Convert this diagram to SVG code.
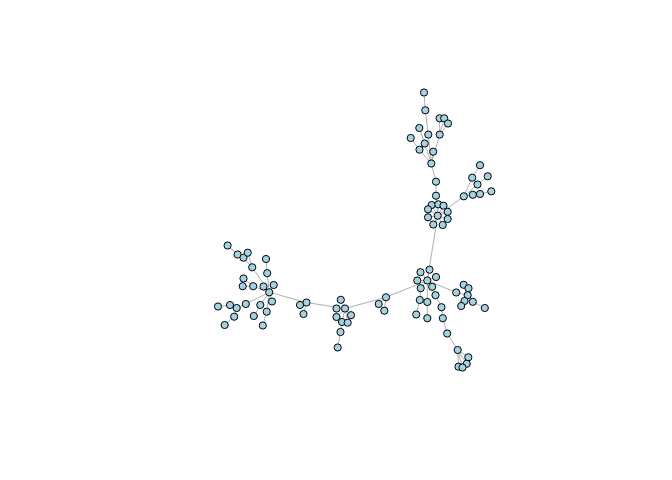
<svg xmlns="http://www.w3.org/2000/svg" width="672" height="480" viewBox="0 0 672 480">
<style>
.e{stroke:#a6a6a6;stroke-width:0.9;fill:none}
.n circle{fill:#a3d2e2;stroke:#000;stroke-width:1}
</style>
<rect width="672" height="480" fill="#fff"/>
<g id="edges" class="e">
<path d="M424,92.5L425.3,110.3L428.3,134.6L431.3,163.5M439.6,118.3L439.7,134.6M444.2,118.3L439.7,134.6M448,123.5L439.7,134.6L431.3,163.5M419.3,128L424.7,143.5L431.3,163.5M410.7,138L419.5,149.7L431.3,163.5M433.2,151.7L431.3,163.5L436,181.7L436,195.7L437.7,215.7"/>
<path d="M437.7,215.7L431.7,205M437.7,215.7L438.3,204.3M437.7,215.7L443.5,205.7M437.7,215.7L428,209.3M437.7,215.7L447.7,211.8M437.7,215.7L428,217.3M437.7,215.7L447.7,219M437.7,215.7L433.3,224.5M437.7,215.7L442.7,225"/>
<path d="M437.7,215.7L463.8,196.3L472.8,194.8L480,194L491.3,191.3M463.8,196.3L472.2,177.7L480,165.2M463.8,196.3L477.5,184.5L487.7,176.3"/>
<path d="M437.7,215.7L427.3,280.5M427.3,280.5L429.5,269.7M427.3,280.5L420.5,272.2M427.3,280.5L436,277M427.3,280.5L417.3,280.5M427.3,280.5L420.7,288.2L419.8,300L416.2,314.5M427.3,280.5L427.3,302L427.3,318.2M427.3,280.5L432.2,286.8L435.5,295.2L441.5,307.2L442.8,318.2L447.2,333.5L457.7,350M457.7,350L468.3,357.3M457.7,350L466.7,363.8M457.7,350L458.5,366.7M457.7,350L462.5,367.5"/>
<path d="M427.3,280.5L456.2,292.5L467.7,295.2M467.7,295.2L463.7,284.8M467.7,295.2L468.5,288.2M467.7,295.2L464.5,301M467.7,295.2L461.2,306M467.7,295.2L472.8,301.8L484.8,308"/>
<path d="M427.3,280.5L386,297.3L378.7,304M386,297.3L384.3,310.7M386,297.3L345,308.5"/>
<path d="M345,308.5L340.8,299.8M345,308.5L336.5,308.5M345,308.5L351,315.2M345,308.5L336.5,317M345,308.5L342,322L340.5,332L337.7,347.5M345,308.5L347.7,322.7M345,308.5L306.5,302.5L300,305M306.5,302.5L303.5,314M306.5,302.5L269.2,292.3"/>
<path d="M269.2,292.3L252.2,267.3L243.5,257.7L237.6,254.5L227.6,245.5M252.2,267.3L247.7,252.7M269.2,292.3L267.2,273.2L266,259M269.2,292.3L253.2,286.2L243.5,278.5M253.2,286.2L242.7,286.2M269.2,292.3L263.5,286.5M269.2,292.3L273.7,285M269.2,292.3L272,301.5M269.2,292.3L260.3,305L253.8,316M269.2,292.3L266.7,311.7L262.8,325.5M269.2,292.3L245.8,304L236.7,308L230,305L218,306.5M236.7,308L234.2,316.7L224.7,325"/>
</g>
<g id="nodes" class="n">
<g id="n1"><circle cx="424" cy="92.5" r="3.6"/></g>
<g id="n2"><circle cx="425.3" cy="110.3" r="3.6"/></g>
<g id="n3"><circle cx="439.6" cy="118.3" r="3.6"/></g>
<g id="n4"><circle cx="444.2" cy="118.3" r="3.6"/></g>
<g id="n5"><circle cx="448" cy="123.5" r="3.6"/></g>
<g id="n6"><circle cx="419.3" cy="128" r="3.6"/></g>
<g id="n7"><circle cx="428.3" cy="134.6" r="3.6"/></g>
<g id="n8"><circle cx="439.7" cy="134.6" r="3.6"/></g>
<g id="n9"><circle cx="410.7" cy="138" r="3.6"/></g>
<g id="n10"><circle cx="424.7" cy="143.5" r="3.6"/></g>
<g id="n11"><circle cx="419.5" cy="149.7" r="3.6"/></g>
<g id="n12"><circle cx="433.2" cy="151.7" r="3.6"/></g>
<g id="n13"><circle cx="431.3" cy="163.5" r="3.6"/></g>
<g id="n14"><circle cx="436" cy="181.7" r="3.6"/></g>
<g id="n15"><circle cx="436" cy="195.7" r="3.6"/></g>
<g id="n16"><circle cx="437.7" cy="215.7" r="3.6"/></g>
<g id="n17"><circle cx="431.7" cy="205" r="3.6"/></g>
<g id="n18"><circle cx="438.3" cy="204.3" r="3.6"/></g>
<g id="n19"><circle cx="443.5" cy="205.7" r="3.6"/></g>
<g id="n20"><circle cx="428" cy="209.3" r="3.6"/></g>
<g id="n21"><circle cx="447.7" cy="211.8" r="3.6"/></g>
<g id="n22"><circle cx="428" cy="217.3" r="3.6"/></g>
<g id="n23"><circle cx="447.7" cy="219" r="3.6"/></g>
<g id="n24"><circle cx="433.3" cy="224.5" r="3.6"/></g>
<g id="n25"><circle cx="442.7" cy="225" r="3.6"/></g>
<g id="n26"><circle cx="463.8" cy="196.3" r="3.6"/></g>
<g id="n27"><circle cx="472.8" cy="194.8" r="3.6"/></g>
<g id="n28"><circle cx="480" cy="194" r="3.6"/></g>
<g id="n29"><circle cx="491.3" cy="191.3" r="3.6"/></g>
<g id="n30"><circle cx="472.2" cy="177.7" r="3.6"/></g>
<g id="n31"><circle cx="480" cy="165.2" r="3.6"/></g>
<g id="n32"><circle cx="477.5" cy="184.5" r="3.6"/></g>
<g id="n33"><circle cx="487.7" cy="176.3" r="3.6"/></g>
<g id="n34"><circle cx="427.3" cy="280.5" r="3.6"/></g>
<g id="n35"><circle cx="429.5" cy="269.7" r="3.6"/></g>
<g id="n36"><circle cx="420.5" cy="272.2" r="3.6"/></g>
<g id="n37"><circle cx="436" cy="277" r="3.6"/></g>
<g id="n38"><circle cx="417.3" cy="280.5" r="3.6"/></g>
<g id="n39"><circle cx="420.7" cy="288.2" r="3.6"/></g>
<g id="n40"><circle cx="432.2" cy="286.8" r="3.6"/></g>
<g id="n41"><circle cx="435.5" cy="295.2" r="3.6"/></g>
<g id="n42"><circle cx="419.8" cy="300" r="3.6"/></g>
<g id="n43"><circle cx="427.3" cy="302" r="3.6"/></g>
<g id="n44"><circle cx="441.5" cy="307.2" r="3.6"/></g>
<g id="n45"><circle cx="416.2" cy="314.5" r="3.6"/></g>
<g id="n46"><circle cx="427.3" cy="318.2" r="3.6"/></g>
<g id="n47"><circle cx="442.8" cy="318.2" r="3.6"/></g>
<g id="n48"><circle cx="447.2" cy="333.5" r="3.6"/></g>
<g id="n49"><circle cx="457.7" cy="350" r="3.6"/></g>
<g id="n50"><circle cx="468.3" cy="357.3" r="3.6"/></g>
<g id="n51"><circle cx="466.7" cy="363.8" r="3.6"/></g>
<g id="n52"><circle cx="458.5" cy="366.7" r="3.6"/></g>
<g id="n53"><circle cx="462.5" cy="367.5" r="3.6"/></g>
<g id="n54"><circle cx="456.2" cy="292.5" r="3.6"/></g>
<g id="n55"><circle cx="463.7" cy="284.8" r="3.6"/></g>
<g id="n56"><circle cx="468.5" cy="288.2" r="3.6"/></g>
<g id="n57"><circle cx="467.7" cy="295.2" r="3.6"/></g>
<g id="n58"><circle cx="464.5" cy="301" r="3.6"/></g>
<g id="n59"><circle cx="472.8" cy="301.8" r="3.6"/></g>
<g id="n60"><circle cx="461.2" cy="306" r="3.6"/></g>
<g id="n61"><circle cx="484.8" cy="308" r="3.6"/></g>
<g id="n62"><circle cx="386" cy="297.3" r="3.6"/></g>
<g id="n63"><circle cx="378.7" cy="304" r="3.6"/></g>
<g id="n64"><circle cx="384.3" cy="310.7" r="3.6"/></g>
<g id="n65"><circle cx="345" cy="308.5" r="3.6"/></g>
<g id="n66"><circle cx="340.8" cy="299.8" r="3.6"/></g>
<g id="n67"><circle cx="336.5" cy="308.5" r="3.6"/></g>
<g id="n68"><circle cx="351" cy="315.2" r="3.6"/></g>
<g id="n69"><circle cx="336.5" cy="317" r="3.6"/></g>
<g id="n70"><circle cx="342" cy="322" r="3.6"/></g>
<g id="n71"><circle cx="347.7" cy="322.7" r="3.6"/></g>
<g id="n72"><circle cx="340.5" cy="332" r="3.6"/></g>
<g id="n73"><circle cx="337.7" cy="347.5" r="3.6"/></g>
<g id="n74"><circle cx="306.5" cy="302.5" r="3.6"/></g>
<g id="n75"><circle cx="300" cy="305" r="3.6"/></g>
<g id="n76"><circle cx="303.5" cy="314" r="3.6"/></g>
<g id="n77"><circle cx="269.2" cy="292.3" r="3.6"/></g>
<g id="n78"><circle cx="227.6" cy="245.5" r="3.6"/></g>
<g id="n79"><circle cx="237.6" cy="254.5" r="3.6"/></g>
<g id="n80"><circle cx="243.5" cy="257.7" r="3.6"/></g>
<g id="n81"><circle cx="247.7" cy="252.7" r="3.6"/></g>
<g id="n82"><circle cx="252.2" cy="267.3" r="3.6"/></g>
<g id="n83"><circle cx="266" cy="259" r="3.6"/></g>
<g id="n84"><circle cx="267.2" cy="273.2" r="3.6"/></g>
<g id="n85"><circle cx="243.5" cy="278.5" r="3.6"/></g>
<g id="n86"><circle cx="242.7" cy="286.2" r="3.6"/></g>
<g id="n87"><circle cx="253.2" cy="286.2" r="3.6"/></g>
<g id="n88"><circle cx="263.5" cy="286.5" r="3.6"/></g>
<g id="n89"><circle cx="273.7" cy="285" r="3.6"/></g>
<g id="n90"><circle cx="272" cy="301.5" r="3.6"/></g>
<g id="n91"><circle cx="260.3" cy="305" r="3.6"/></g>
<g id="n92"><circle cx="245.8" cy="304" r="3.6"/></g>
<g id="n93"><circle cx="230" cy="305" r="3.6"/></g>
<g id="n94"><circle cx="218" cy="306.5" r="3.6"/></g>
<g id="n95"><circle cx="236.7" cy="308" r="3.6"/></g>
<g id="n96"><circle cx="234.2" cy="316.7" r="3.6"/></g>
<g id="n97"><circle cx="224.7" cy="325" r="3.6"/></g>
<g id="n98"><circle cx="253.8" cy="316" r="3.6"/></g>
<g id="n99"><circle cx="266.7" cy="311.7" r="3.6"/></g>
<g id="n100"><circle cx="262.8" cy="325.5" r="3.6"/></g>
</g>
</svg>
